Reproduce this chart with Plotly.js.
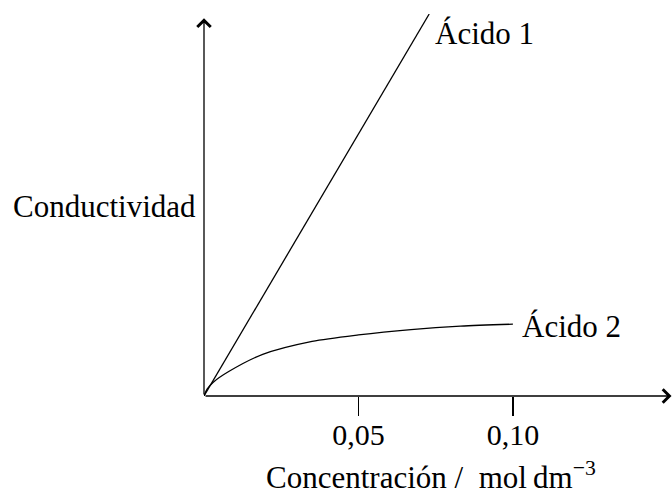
<!DOCTYPE html>
<html>
<head>
<meta charset="utf-8">
<script src="https://cdn.plot.ly/plotly-3.0.1.min.js"></script>
<style>html,body{margin:0;padding:0;background:#fff;}#chart{width:672px;height:495px;}</style>
</head>
<body>
<div id="chart"></div>
<script>
// Data (conductivity in arbitrary units)
const acid1Conc = [0, 0.0729];
const acid1Cond = [0, 100];
const acid2Conc = [0, 0.001, 0.003, 0.008, 0.019, 0.035, 0.050, 0.067, 0.083, 0.100];
const acid2Cond = [0, 1.8, 3.6, 6.4, 10.9, 14.3, 16.0, 17.4, 18.3, 18.8];
const tickVals = [0.05, 0.10];
const tickText = ['0,05', '0,10'];
const seriesNames = ['Ácido 1', 'Ácido 2'];

const FONT = '"Liberation Serif", "Times New Roman", Times, serif';
const XMAX = 0.1515, YMAX = 100;

const traces = [
  {x: acid1Conc, y: acid1Cond, mode: 'lines', line: {color: '#000', width: 1.3}, name: seriesNames[0], hoverinfo: 'skip'},
  {x: acid2Conc, y: acid2Cond, mode: 'lines', line: {color: '#000', width: 1.3, shape: 'spline', smoothing: 0.8}, name: seriesNames[1], hoverinfo: 'skip'}
];

const layout = {
  width: 672, height: 495,
  margin: {l: 204, r: 0, t: 14, b: 99},
  paper_bgcolor: '#fff', plot_bgcolor: '#fff',
  showlegend: false,
  font: {family: FONT, size: 31, color: '#000'},
  xaxis: {
    range: [0, XMAX], showgrid: false, zeroline: false, showline: false,
    ticks: 'outside', ticklen: 19, tickwidth: 1.3, tickcolor: '#000',
    tickvals: tickVals, ticktext: tickText, ticklabelstandoff: -7,
    tickfont: {family: FONT, size: 30, color: '#000'}
  },
  yaxis: {
    range: [0, YMAX], showgrid: false, zeroline: false, showline: false,
    showticklabels: false, ticks: ''
  },
  annotations: [
    // axis arrows
    {x: XMAX * 0.999, y: 0, ax: 0, ay: 0, xref: 'x', yref: 'y', axref: 'x', ayref: 'y',
     text: '', showarrow: true, arrowhead: 4, arrowsize: 2, arrowwidth: 1.3, arrowcolor: '#000'},
    {x: 0, y: 98.9, ax: 0, ay: 0, xref: 'x', yref: 'y', axref: 'x', ayref: 'y',
     text: '', showarrow: true, arrowhead: 4, arrowsize: 2, arrowwidth: 1.3, arrowcolor: '#000'},
    // series labels
    {x: 0.0742, y: 95, xref: 'x', yref: 'y', text: seriesNames[0], showarrow: false,
     xanchor: 'left', yanchor: 'middle', font: {family: FONT, size: 31, color: '#000'}},
    {x: 0.1022, y: 18.3, xref: 'x', yref: 'y', text: seriesNames[1], showarrow: false,
     xanchor: 'left', yanchor: 'middle', font: {family: FONT, size: 31, color: '#000'}},
    // axis titles
    {x: -0.013, y: 0.496, xref: 'paper', yref: 'paper', text: 'Conductividad', showarrow: false,
     xanchor: 'right', yanchor: 'middle', font: {family: FONT, size: 31, color: '#000'}},
    {x: 0.485, y: -0.208, xref: 'paper', yref: 'paper', text: 'Concentración /  mol\u2009dm<sup>\u22123</sup>', showarrow: false,
     xanchor: 'center', yanchor: 'middle', font: {family: FONT, size: 31, color: '#000'}}
  ]
};

Plotly.newPlot('chart', traces, layout, {staticPlot: true, displayModeBar: false});
</script>
</body>
</html>
